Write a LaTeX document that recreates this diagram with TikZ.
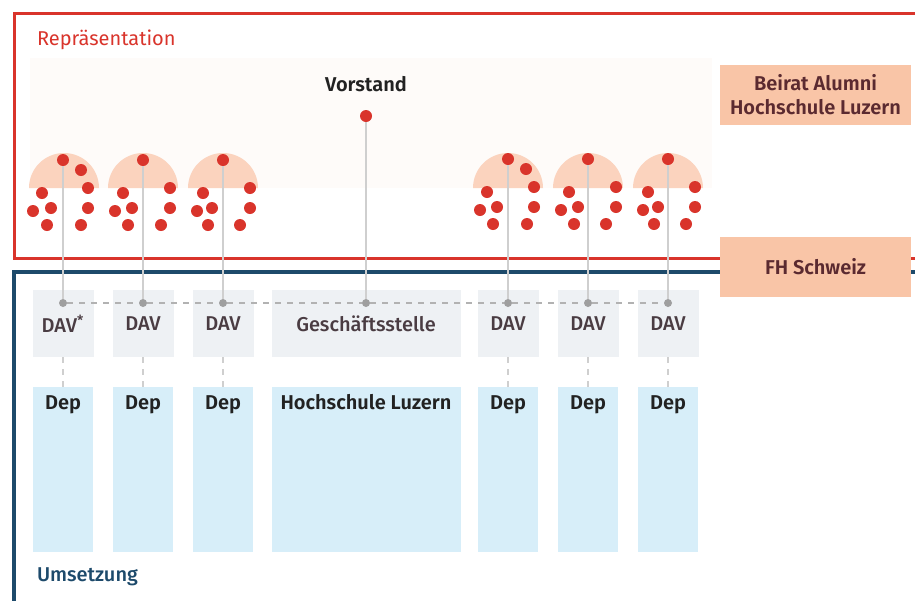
\documentclass[tikz,border=0pt]{standalone}
\usepackage{fontspec}
\setmainfont{Fira Sans}[UprightFont={* Medium},BoldFont={* SemiBold}]
\newfontfamily\regfont{Fira Sans}
\usepackage{tikz}

\definecolor{hsred}{HTML}{D9342B}
\definecolor{hsblue}{HTML}{1D4A6B}
\definecolor{domepeach}{HTML}{FBD3BE}
\definecolor{boxpeach}{HTML}{F9C5A7}
\definecolor{boxtext}{HTML}{5B2A30}
\definecolor{davgray}{HTML}{EEF1F4}
\definecolor{davtext}{HTML}{4A3C42}
\definecolor{depblue}{HTML}{D7EEF9}
\definecolor{deptext}{HTML}{222222}
\definecolor{linegray}{HTML}{CFCFCF}
\definecolor{faint}{HTML}{FEFBF9}

\begin{document}
\begin{tikzpicture}[x=0.5pt,y=-0.5pt,font=\fontsize{10}{12}\selectfont,
  reddot/.style={circle,fill=hsred,inner sep=0pt,minimum size=6pt},
  hubdot/.style={circle,fill=gray!75,inner sep=0pt,minimum size=4pt},
  davbox/.style={rectangle,fill=davgray,minimum width=30.5pt,minimum height=33.5pt,text=davtext},
  depbox/.style={rectangle,fill=depblue,anchor=north,font=\bfseries,text=deptext,minimum width=30pt,inner sep=3pt,text height=8pt,text depth=68.5pt},
  peachbox/.style={rectangle,fill=boxpeach,minimum width=95.5pt,minimum height=30pt,font=\bfseries,text=boxtext,align=center},
  link/.style={draw=linegray,line width=0.6pt},
  dashlink/.style={link,dashed}]

  \clip (0,0) rectangle (915,600);
  \fill[white] (0,0) rectangle (915,600);

  % the two frames
  \fill[faint] (30,58) rectangle (712,188);
  \draw[hsred,line width=1.5pt] (14,13) rectangle (940,258);
  \draw[hsblue,line width=2pt] (14,272) rectangle (940,620);
  \node[anchor=west,text=hsred,font=\fontsize{10}{12}\regfont] (rep) at (30,40) {Repräsentation};
  \node[anchor=west,text=hsblue] (ums) at (30,577) {Umsetzung};

  % domes
  \fill[domepeach] (29,188) arc (180:360:35) -- cycle;
  \fill[domepeach] (108,188) arc (180:360:35) -- cycle;
  \fill[domepeach] (188,188) arc (180:360:35) -- cycle;
  \fill[domepeach] (473,188) arc (180:360:35) -- cycle;
  \fill[domepeach] (553,188) arc (180:360:35) -- cycle;
  \fill[domepeach] (633,188) arc (180:360:35) -- cycle;

  \fill[hsred] (81,170) circle (6) (88,188) circle (6) (88,208) circle (6) (81,225) circle (6)
    (42,193) circle (6) (51,208) circle (6) (33,211) circle (6) (47,225) circle (6);
  \fill[hsred] (170,188) circle (6) (170,208) circle (6) (161,225) circle (6)
    (123,193) circle (6) (132,208) circle (6) (115,211) circle (6) (128,225) circle (6);
  \fill[hsred] (250,188) circle (6) (250,208) circle (6) (240,225) circle (6)
    (203,193) circle (6) (212,208) circle (6) (197,211) circle (6) (208,225) circle (6);
  \fill[hsred] (526,169) circle (6) (534,187) circle (6) (534,207) circle (6) (527,224) circle (6)
    (487,192) circle (6) (497,207) circle (6) (480,210) circle (6) (493,224) circle (6);
  \fill[hsred] (616,187) circle (6) (616,207) circle (6) (606,224) circle (6)
    (569,192) circle (6) (578,207) circle (6) (561,210) circle (6) (574,224) circle (6);
  \fill[hsred] (695,187) circle (6) (695,207) circle (6) (686,224) circle (6)
    (648,192) circle (6) (658,207) circle (6) (643,210) circle (6) (654,224) circle (6);

  \node[reddot] (top1) at (63,160) {};
  \node[reddot] (top2) at (143,160) {};
  \node[reddot] (top3) at (223,160) {};
  \node[reddot] (top4) at (508,159) {};
  \node[reddot] (top5) at (588,159) {};
  \node[reddot] (top6) at (668,159) {};

  \node[font=\bfseries,text=deptext] (vorstand) at (366,84) {Vorstand};
  \node[reddot] (vdot) at (366,116) {};

  \node[peachbox] (beirat) at (815.5,95) {Beirat Alumni\\Hochschule Luzern};
  \node[peachbox] (fhs) at (815.5,267) {FH Schweiz};

  % DAV row
  \node[davbox] (dav1) at (63,323.5) {DAV\textsuperscript{*}};
  \node[davbox] (dav2) at (143,323.5) {DAV};
  \node[davbox] (dav3) at (223,323.5) {DAV};
  \node[davbox,minimum width=94.5pt] (gs) at (366,323.5) {Geschäftsstelle};
  \node[davbox] (dav4) at (508,323.5) {DAV};
  \node[davbox] (dav5) at (588,323.5) {DAV};
  \node[davbox] (dav6) at (668,323.5) {DAV};

  \node[hubdot] (hub1) at (63,303) {};
  \node[hubdot] (hub2) at (143,303) {};
  \node[hubdot] (hub3) at (223,303) {};
  \node[hubdot] (hubg) at (366,303) {};
  \node[hubdot] (hub4) at (508,303) {};
  \node[hubdot] (hub5) at (588,303) {};
  \node[hubdot] (hub6) at (668,303) {};

  % Dep row
  \node[depbox] (dep1) at (63,387) {Dep};
  \node[depbox] (dep2) at (143,387) {Dep};
  \node[depbox] (dep3) at (223,387) {Dep};
  \node[depbox,minimum width=94.5pt] (hslu) at (366,387) {Hochschule Luzern};
  \node[depbox] (dep4) at (508,387) {Dep};
  \node[depbox] (dep5) at (588,387) {Dep};
  \node[depbox] (dep6) at (668,387) {Dep};

  \path[link]
    (top1) edge (hub1)
    (top2) edge (hub2)
    (top3) edge (hub3)
    (vdot) edge (hubg)
    (top4) edge (hub4)
    (top5) edge (hub5)
    (top6) edge (hub6);

  \draw[dashlink,draw=gray!60] (hub1) -- (hub2) -- (hub3) -- (hubg) -- (hub4) -- (hub5) -- (hub6);

  \path[dashlink]
    (dav1) edge (dep1)
    (dav2) edge (dep2)
    (dav3) edge (dep3)
    (dav4) edge (dep4)
    (dav5) edge (dep5)
    (dav6) edge (dep6);

\end{tikzpicture}
\end{document}
